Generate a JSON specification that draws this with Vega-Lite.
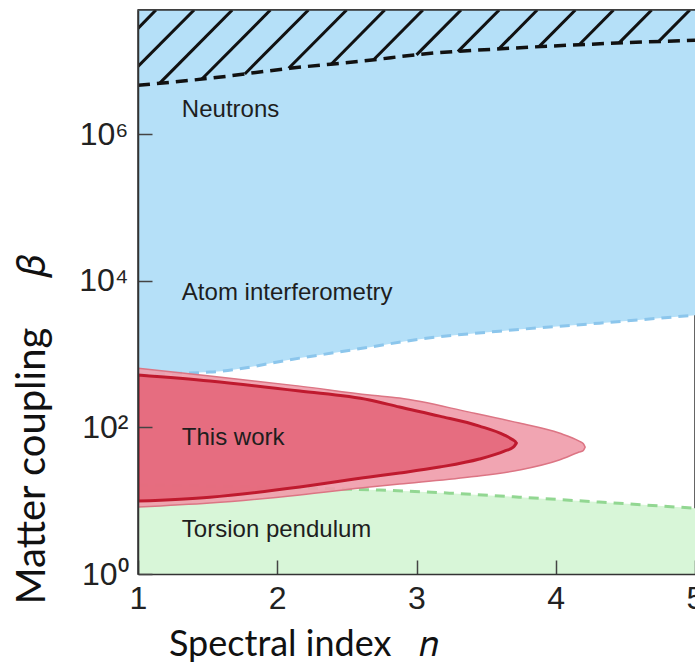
{
  "$schema": "https://vega.github.io/schema/vega-lite/v6.json",
  "width": 557,
  "height": 564,
  "autosize": {"type": "none"},
  "padding": {"left": 138, "top": 10, "right": 0, "bottom": 89},
  "background": "white",
  "config": {"view": {"stroke": "#333333", "strokeWidth": 1.5}},
  "datasets": {
    "atom": [
      {"x": 1, "y": 535}, {"x": 1.516, "y": 570}, {"x": 2.161, "y": 885}, {"x": 2.663, "y": 1250},
      {"x": 3.022, "y": 1607}, {"x": 3.595, "y": 2066}, {"x": 4.312, "y": 2656}, {"x": 5, "y": 3415}
    ],
    "torsion": [
      {"x": 1, "y": 16.4}, {"x": 1.516, "y": 15.9}, {"x": 2.161, "y": 14.9}, {"x": 2.735, "y": 14.0},
      {"x": 3.237, "y": 12.7}, {"x": 3.738, "y": 11.2}, {"x": 4.312, "y": 9.6}, {"x": 5, "y": 7.9}
    ],
    "neutron": [
      {"x": 1, "y": 4690000}, {"x": 1.516, "y": 5850000}, {"x": 2.09, "y": 8000000}, {"x": 2.663, "y": 10300000},
      {"x": 3.022, "y": 12400000}, {"x": 3.667, "y": 15000000}, {"x": 4.384, "y": 17500000}, {"x": 5, "y": 19300000}
    ],
    "hatch": [
      {"x": 1.129, "y": 50000000, "x2": 1.0, "y2": 28100000},
      {"x": 1.403, "y": 50000000, "x2": 1.0, "y2": 8470000},
      {"x": 1.677, "y": 50000000, "x2": 1.158, "y2": 5060000},
      {"x": 1.951, "y": 50000000, "x2": 1.459, "y2": 5720000},
      {"x": 2.224, "y": 50000000, "x2": 1.767, "y2": 6690000},
      {"x": 2.498, "y": 50000000, "x2": 2.082, "y2": 8000000},
      {"x": 2.772, "y": 50000000, "x2": 2.387, "y2": 9080000},
      {"x": 3.046, "y": 50000000, "x2": 2.692, "y2": 10450000},
      {"x": 3.32, "y": 50000000, "x2": 3.0, "y2": 12200000},
      {"x": 3.594, "y": 50000000, "x2": 3.297, "y2": 13500000},
      {"x": 3.867, "y": 50000000, "x2": 3.59, "y2": 14700000},
      {"x": 4.141, "y": 50000000, "x2": 3.878, "y2": 15700000},
      {"x": 4.415, "y": 50000000, "x2": 4.168, "y2": 16800000},
      {"x": 4.689, "y": 50000000, "x2": 4.455, "y2": 17800000},
      {"x": 4.963, "y": 50000000, "x2": 4.738, "y2": 18500000}
    ],
    "outer": [
      {"x": 1.0, "top": 646, "bot": 8.2}, {"x": 1.516, "top": 503, "bot": 9.3},
      {"x": 2.161, "top": 367, "bot": 12.0}, {"x": 2.663, "top": 277, "bot": 15.4},
      {"x": 2.878, "top": 252, "bot": 16.9}, {"x": 3.38, "top": 162, "bot": 21.1},
      {"x": 3.738, "top": 115, "bot": 26.2}, {"x": 4.025, "top": 83.9, "bot": 35.9},
      {"x": 4.168, "top": 65.2, "bot": 46.2}, {"x": 4.197, "top": 60.3, "bot": 48.4},
      {"x": 4.211, "top": 54, "bot": 54}
    ],
    "inner": [
      {"x": 1.0, "top": 519, "bot": 9.9}, {"x": 1.516, "top": 430, "bot": 11.2},
      {"x": 2.161, "top": 314, "bot": 15.4}, {"x": 2.663, "top": 237, "bot": 21.1},
      {"x": 2.878, "top": 190, "bot": 23.9}, {"x": 3.165, "top": 143, "bot": 28.8},
      {"x": 3.452, "top": 104.5, "bot": 37.1}, {"x": 3.631, "top": 78.8, "bot": 47.6},
      {"x": 3.695, "top": 67.3, "bot": 54.0}, {"x": 3.71, "top": 64.2, "bot": 58.5},
      {"x": 3.717, "top": 61.3, "bot": 61.3}
    ],
    "labels": [
      {"x": 1.315, "y": 2140000, "label": "Neutrons"},
      {"x": 1.315, "y": 6820, "label": "Atom interferometry"},
      {"x": 1.315, "y": 71.7, "label": "This work"},
      {"x": 1.315, "y": 3.98, "label": "Torsion pendulum"}
    ]
  },
  "layer": [
    {
      "data": {"name": "atom"},
      "mark": {"type": "area", "orient": "vertical", "fill": "#b5e0f8", "interpolate": "monotone", "clip": true},
      "encoding": {
        "x": {
          "field": "x", "type": "quantitative",
          "scale": {"domain": [1, 5], "nice": false, "zero": false},
          "axis": {
            "values": [1, 2, 3, 4, 5], "format": "d", "grid": false, "zindex": 1,
            "labelFont": "Liberation Sans", "labelFontSize": 32, "labelColor": "#222222",
            "labelPadding": 23, "labelFlush": false, "labelOverlap": false,
            "tickSize": -14, "tickColor": "#444444", "tickWidth": 1.5,
            "domainColor": "#333333", "domainWidth": 1.5,
            "title": "Spectral index\u00a0\u00a0\u00a0𝑛", "titleFont": "Lato", "titleFontSize": 36,
            "titleFontWeight": "normal", "titleColor": "#111111",
            "titleX": 165, "titleY": 53
          }
        },
        "y": {
          "field": "y", "type": "quantitative",
          "scale": {"type": "log", "domain": [1, 50000000], "nice": false},
          "axis": {
            "values": [1, 100, 10000, 1000000], "grid": false, "zindex": 1,
            "labelExpr": "datum.value == 1 ? '10⁰' : datum.value == 100 ? '10²' : datum.value == 10000 ? '10⁴' : '10⁶'",
            "labelFont": "Liberation Sans", "labelFontSize": 32, "labelColor": "#222222",
            "labelPadding": 24, "labelFlush": false, "labelOverlap": false,
            "tickSize": -14, "tickColor": "#444444", "tickWidth": 1.5,
            "domainColor": "#333333", "domainWidth": 1.5,
            "title": "Matter coupling\u00a0\u00a0\u00a0\u00a0\u00a0𝛽", "titleFont": "Lato", "titleFontSize": 40,
            "titleFontWeight": "normal", "titleColor": "#111111",
            "titleAngle": -90, "titleBaseline": "bottom", "titleAlign": "center",
            "titleX": -86, "titleY": 419
          }
        },
        "y2": {"datum": 50000000}
      }
    },
    {
      "data": {"name": "atom"},
      "mark": {"type": "line", "stroke": "#8cc6ec", "strokeWidth": 3, "strokeDash": [10, 7], "interpolate": "monotone", "clip": true},
      "encoding": {"x": {"field": "x", "type": "quantitative"}, "y": {"field": "y", "type": "quantitative"}}
    },
    {
      "data": {"name": "torsion"},
      "mark": {"type": "area", "orient": "vertical", "fill": "#d8f6d8", "interpolate": "monotone", "clip": true},
      "encoding": {"x": {"field": "x", "type": "quantitative"}, "y": {"field": "y", "type": "quantitative"}, "y2": {"datum": 1}}
    },
    {
      "data": {"name": "torsion"},
      "mark": {"type": "line", "stroke": "#92d792", "strokeWidth": 3, "strokeDash": [10, 7], "interpolate": "monotone", "clip": true},
      "encoding": {"x": {"field": "x", "type": "quantitative"}, "y": {"field": "y", "type": "quantitative"}}
    },
    {
      "data": {"name": "hatch"},
      "mark": {"type": "rule", "stroke": "#111111", "strokeWidth": 3, "clip": true},
      "encoding": {
        "x": {"field": "x", "type": "quantitative"}, "y": {"field": "y", "type": "quantitative"},
        "x2": {"field": "x2"}, "y2": {"field": "y2"}
      }
    },
    {
      "data": {"name": "neutron"},
      "mark": {"type": "line", "stroke": "#111111", "strokeWidth": 3.5, "strokeDash": [12, 7], "interpolate": "monotone", "clip": true},
      "encoding": {"x": {"field": "x", "type": "quantitative"}, "y": {"field": "y", "type": "quantitative"}}
    },
    {
      "data": {"name": "outer"},
      "mark": {"type": "area", "orient": "vertical", "fill": "#f09dab", "fillOpacity": 0.92, "stroke": "#dc7584", "strokeWidth": 1.5, "interpolate": "monotone", "clip": true},
      "encoding": {"x": {"field": "x", "type": "quantitative"}, "y": {"field": "top", "type": "quantitative"}, "y2": {"field": "bot"}}
    },
    {
      "data": {"name": "inner"},
      "mark": {"type": "area", "orient": "vertical", "fill": "#e4677a", "fillOpacity": 0.9, "stroke": "#bf1a2e", "strokeWidth": 3, "interpolate": "monotone", "clip": true},
      "encoding": {"x": {"field": "x", "type": "quantitative"}, "y": {"field": "top", "type": "quantitative"}, "y2": {"field": "bot"}}
    },
    {
      "data": {"values": [{"edge": 50000000}]},
      "mark": {"type": "rule", "stroke": "#333333", "strokeWidth": 1.5},
      "encoding": {"y": {"field": "edge", "type": "quantitative"}}
    },
    {
      "data": {"name": "labels"},
      "mark": {"type": "text", "align": "left", "baseline": "middle", "font": "Liberation Sans", "fontSize": 24, "fill": "#1e1e1e"},
      "encoding": {"x": {"field": "x", "type": "quantitative"}, "y": {"field": "y", "type": "quantitative"}, "text": {"field": "label"}}
    }
  ]
}
